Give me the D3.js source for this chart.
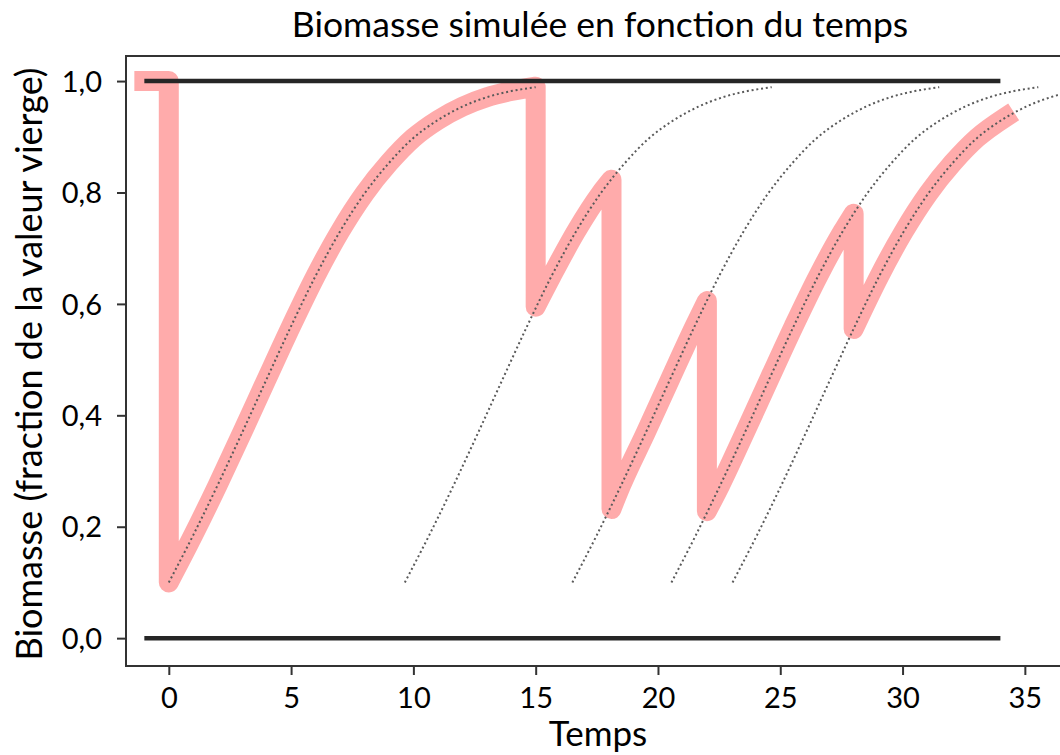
<!DOCTYPE html>
<html>
<head>
<meta charset="utf-8">
<script src="https://d3js.org/d3.v7.min.js"></script>
<style>
  html, body { margin: 0; padding: 0; background: #fff; }
  svg { display: block; font-family: Lato, "Open Sans", sans-serif; }
</style>
</head>
<body>
<svg></svg>
<script>
///////////////////////////////////////////
// Data
// growth curve of the stock, starting from 0.1 of virgin biomass
var growthT = [0, 1, 2, 3, 4, 5, 6, 7, 8, 9, 10, 11, 12, 13, 14, 15];
var growthB = [0.10, 0.185, 0.275, 0.369, 0.465, 0.56, 0.65, 0.73, 0.798, 0.853, 0.898, 0.93, 0.954, 0.971, 0.982, 0.989];

// time at which each dotted regrowth curve starts
var regrowthStarts = [0, 9.65, 16.5, 20.55, 23.05];

// harvest events of the simulated (pink) trajectory
var harvestTimes  = [15, 18.1, 22, 28];
var beforeHarvest = [0.99, 0.823, 0.605, 0.762];
var afterHarvest  = [0.595, 0.232, 0.228, 0.555];
var endTime = 34.2, endValue = 0.935;
var startTime = -1, startValue = 1.0, crashValue = 0.10;

// reference lines (virgin level and zero)
var refLevels = [0, 1];
var refRange = [-1, 34];

var xTicks = [0, 5, 10, 15, 20, 25, 30, 35];
var yTicks = [0, 0.2, 0.4, 0.6, 0.8, 1.0];

var titleText = "Biomasse simulée en fonction du temps";
var xLabelText = "Temps";
var yLabelText = "Biomasse (fraction de la valeur vierge)";

///////////////////////////////////////////
// Layout
var svgWidth = 1060, svgHeight = 755;
var plot = {left: 126, top: 56, right: 1086, bottom: 666};

var svg = d3.select("svg").attr("width", svgWidth).attr("height", svgHeight);

var x = d3.scaleLinear().domain([-1.75, 37.5]).range([plot.left, plot.right]);
var y = d3.scaleLinear().domain([-0.05, 1.045]).range([plot.bottom, plot.top]);

svg.append("defs").append("clipPath").attr("id", "plotclip")
  .append("rect")
  .attr("x", plot.left).attr("y", plot.top)
  .attr("width", plot.right - plot.left).attr("height", plot.bottom - plot.top);

var area = svg.append("g").attr("clip-path", "url(#plotclip)");

///////////////////////////////////////////
// Pink simulated trajectory: one continuous path
var lineLinear = d3.line().x(function(d){ return x(d[0]); }).y(function(d){ return y(d[1]); });
var lineSmooth = d3.line().x(function(d){ return x(d[0]); }).y(function(d){ return y(d[1]); })
                   .curve(d3.curveMonotoneX);

var pinkD = lineLinear([[startTime, startValue], [0, startValue], [0, crashValue]]);
regrowthStarts.forEach(function(shift, k){
  var t0 = k === 0 ? 0 : harvestTimes[k-1],
      v0 = k === 0 ? crashValue : afterHarvest[k-1],
      t1 = k < harvestTimes.length ? harvestTimes[k] : endTime,
      v1 = k < harvestTimes.length ? beforeHarvest[k] : endValue;
  var pts = [[t0, v0]];
  growthT.forEach(function(t, i){
    var tt = t + shift;
    if (tt > t0 + 0.3 && tt < t1 - 0.3) pts.push([tt, growthB[i]]);
  });
  pts.push([t1, v1]);
  pinkD += lineSmooth(pts).replace(/^M/, "L");
});

area.append("path")
  .attr("d", pinkD)
  .attr("fill", "none")
  .attr("stroke", "#ff0000")
  .attr("stroke-opacity", 0.33)
  .attr("stroke-width", 20)
  .attr("stroke-linejoin", "round")
  .attr("stroke-linecap", "square");

///////////////////////////////////////////
// Reference lines at 0 and 1
area.selectAll("line.ref")
  .data(refLevels).enter().append("line")
  .attr("class", "ref")
  .attr("x1", x(refRange[0])).attr("x2", x(refRange[1]))
  .attr("y1", function(d){ return y(d); }).attr("y2", function(d){ return y(d); })
  .attr("stroke", "#262626")
  .attr("stroke-width", 4.5);

///////////////////////////////////////////
// Dotted regrowth curves
area.selectAll("path.regrow")
  .data(regrowthStarts).enter().append("path")
  .attr("class", "regrow")
  .attr("d", function(shift){
    return lineSmooth(growthT.map(function(t, i){ return [t + shift, growthB[i]]; }));
  })
  .attr("fill", "none")
  .attr("stroke", "#5a5a5a")
  .attr("stroke-width", 2)
  .attr("stroke-dasharray", "2,2.8");

///////////////////////////////////////////
// Frame (left, top, bottom spines; right one is off the page)
var frame = svg.append("g").attr("stroke", "#333").attr("stroke-width", 2).attr("fill", "none");
frame.append("line").attr("x1", plot.left).attr("x2", plot.left).attr("y1", plot.top - 1).attr("y2", plot.bottom + 1);
frame.append("line").attr("x1", plot.left).attr("x2", plot.right).attr("y1", plot.top).attr("y2", plot.top);
frame.append("line").attr("x1", plot.left).attr("x2", plot.right).attr("y1", plot.bottom).attr("y2", plot.bottom);

///////////////////////////////////////////
// Axes
var fmt = function(d){ return d3.format(".1f")(d).replace(".", ","); };

var xAxis = svg.append("g")
  .attr("transform", "translate(0," + plot.bottom + ")")
  .call(d3.axisBottom(x).tickValues(xTicks).tickSize(9).tickPadding(12).tickSizeOuter(0));
var yAxis = svg.append("g")
  .attr("transform", "translate(" + plot.left + ",0)")
  .call(d3.axisLeft(y).tickValues(yTicks).tickFormat(fmt).tickSize(9).tickPadding(15).tickSizeOuter(0));

[xAxis, yAxis].forEach(function(ax){
  ax.select(".domain").remove();
  ax.selectAll(".tick line").attr("stroke", "#333").attr("stroke-width", 2);
  ax.selectAll(".tick text")
    .attr("fill", "#000")
    .style("font-family", "Lato, 'Open Sans', sans-serif")
    .style("font-size", "29px");
});
yAxis.selectAll(".tick text").attr("dy", "0.35em");

///////////////////////////////////////////
// Title and axis labels
svg.append("text")
  .attr("x", 600).attr("y", 37)
  .attr("text-anchor", "middle")
  .style("font-size", "35.5px")
  .text(titleText);

svg.append("text")
  .attr("x", 598).attr("y", 746)
  .attr("text-anchor", "middle")
  .style("font-size", "35px")
  .text(xLabelText);

svg.append("text")
  .attr("transform", "translate(42,364) rotate(-90)")
  .attr("text-anchor", "middle")
  .style("font-size", "36px")
  .text(yLabelText);
</script>
</body>
</html>
